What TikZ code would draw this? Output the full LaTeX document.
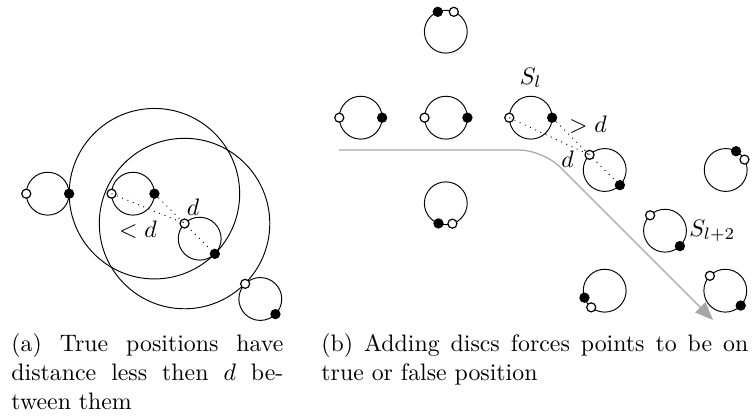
\documentclass[tikz,border=0pt]{standalone}
\usepackage{amsmath,amssymb}
\usetikzlibrary{arrows.meta}

\begin{document}
\begin{tikzpicture}[x=0.42pt,y=-0.42pt]
\tikzset{
  disc/.style={circle,draw,thin,minimum size=18pt,inner sep=0pt,outer sep=0pt},
  reach/.style={circle,draw,thin,minimum size=71.6pt,inner sep=0pt},
  truept/.style={circle,draw,fill=black,line width=0.5pt,minimum size=3.8pt,inner sep=0pt},
  falsept/.style={circle,draw,fill=white,line width=0.5pt,minimum size=3.8pt,inner sep=0pt},
  dist/.style={dotted,thin},
  route/.style={draw=black!35,line width=0.5pt,rounded corners=10pt,-{Triangle[length=7.5pt,width=6pt]}},
  subcap/.style={align=justify,inner sep=0pt,anchor=base west}
}
\useasboundingbox (0,0) rectangle (752,417);
% (a) true positions
\node[disc] (n_a1) at (47.7,193.7) {};
\node[disc] (n_a2) at (133,193.7) {};
\node[disc] (n_a3) at (199.7,238.7) {};
\node[disc] (n_a4) at (260.3,299) {};
\node[reach] (r_a2) at (n_a2.0) {};
\node[reach] (r_a3) at (n_a3.135) {};
\node[falsept] (p_a1f) at (n_a1.180) {};
\node[truept] (p_a1t) at (n_a1.0) {};
\node[falsept] (p_a2f) at (n_a2.180) {};
\node[truept] (p_a2t) at (n_a2.0) {};
\node[falsept] (p_a3f) at (n_a3.135) {};
\node[truept] (p_a3t) at (n_a3.-45) {};
\node[falsept] (p_a4f) at (n_a4.135) {};
\node[truept] (p_a4t) at (n_a4.-45) {};
\draw[dist] (p_a2f.center) -- (p_a3f.center);
\draw[dist] (p_a2t.center) -- (p_a3t.center);
\node (l_a1) at (193,207) {$d$};
\node (l_a2) at (138,230) {$<d$};
% (b) adding discs
\coordinate (route_s) at (339,150);
\coordinate (route_e) at (713,320);
\draw[route] (route_s) -- (543,150) -- (route_e);
\node[disc] (n_b0) at (445.8,31.7) {};
\node[disc] (n_b1) at (360.7,117.7) {};
\node[disc] (n_b2) at (446,117.7) {};
\node[disc,label={above:$S_l$}] (n_b3) at (530.7,117.7) {};
\node[disc] (n_b4) at (604.7,170) {};
\node[disc] (n_b5) at (725.7,170) {};
\node[disc] (n_b6) at (445.8,203.3) {};
\node[disc,label={[inner sep=1pt]right:$S_{l+2}$}] (n_b7) at (665,230.7) {};
\node[disc] (n_b8) at (604.7,290.7) {};
\node[disc] (n_b9) at (725.3,290.7) {};
\node[truept] (p_b0t) at (n_b0.112) {};
\node[falsept] (p_b0f) at (n_b0.68) {};
\node[falsept] (p_b1f) at (n_b1.180) {};
\node[truept] (p_b1t) at (n_b1.0) {};
\node[falsept] (p_b2f) at (n_b2.180) {};
\node[truept] (p_b2t) at (n_b2.0) {};
\node[falsept] (p_b3f) at (n_b3.180) {};
\node[truept] (p_b3t) at (n_b3.0) {};
\node[falsept] (p_b4f) at (n_b4.135) {};
\node[truept] (p_b4t) at (n_b4.-45) {};
\node[truept] (p_b5t) at (n_b5.61) {};
\node[falsept] (p_b5f) at (n_b5.29) {};
\node[truept] (p_b6t) at (n_b6.-110) {};
\node[falsept] (p_b6f) at (n_b6.-72) {};
\node[falsept] (p_b7f) at (n_b7.134) {};
\node[truept] (p_b7t) at (n_b7.-46) {};
\node[truept] (p_b8t) at (n_b8.-161) {};
\node[falsept] (p_b8f) at (n_b8.-129) {};
\node[falsept] (p_b9f) at (n_b9.136) {};
\node[truept] (p_b9t) at (n_b9.-44) {};
\draw[dist] (p_b3f.center) -- (p_b4f.center);
\draw[dist] (p_b3t.center) -- (p_b4t.center);
\node (l_b1) at (588,125) {$>d$};
\node (l_b2) at (567.5,159) {$d$};
% captions
\node[subcap,text width=114.2pt] (cap_a) at (11,352)
  {(a) True positions have distance less then $d$ be\-tween them};
\node[subcap,text width=179.3pt] (cap_b) at (321,352)
  {(b) Adding discs forces points to be on true or false position};
\end{tikzpicture}
\end{document}
